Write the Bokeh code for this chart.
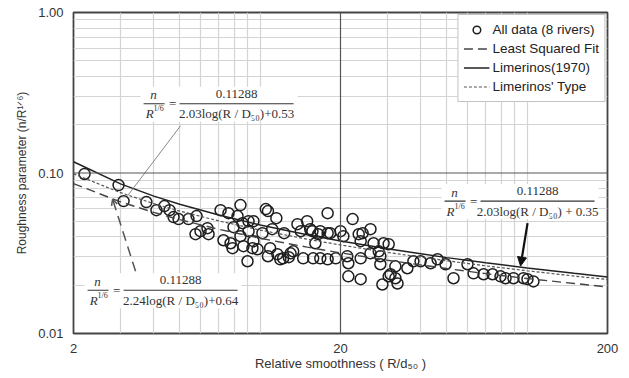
from bokeh.plotting import figure
from bokeh.models import (FixedTicker, PrintfTickFormatter, Span, Legend, LegendItem,
                          Arrow, NormalHead, OpenHead)
from bokeh.core.properties import value
from bokeh.embed import file_html
from bokeh.resources import INLINE

# ---------------- data ----------------
rel_smooth = [2.20, 2.95, 3.08, 3.75, 4.09, 4.38, 4.58, 4.74, 4.95, 5.39,
              5.78, 5.73, 5.98, 6.35, 6.41, 7.11, 7.61, 8.44, 7.95, 8.59,
              8.23, 9.05, 9.44, 7.29, 7.75, 7.88, 8.44, 8.66, 9.36, 9.78,
              8.97, 9.05, 9.44, 10.5, 10.7, 11.5, 10.9, 11.6, 11.9, 13.0,
              13.3, 13.8, 15.0, 14.2, 15.4, 14.5, 15.8, 16.5, 15.7, 16.8,
              17.9, 10.7, 12.2, 16.8, 17.9, 19.2, 17.9, 10.2, 11.1, 12.3,
              12.8, 18.3, 20.0, 20.5, 23.4, 24.2, 25.9, 26.6, 29.0, 30.3,
              23.8, 16.1, 21.2, 23.8, 25.9, 27.8, 28.2, 21.4, 28.2, 32.1,
              35.6, 37.5, 21.4, 23.8, 28.7, 30.3, 32.1, 32.7, 30.8, 22.2,
              46.2, 49.5, 53.0, 59.8, 63.0, 68.7, 74.2, 79.5, 83.0, 88.9,
              96.9, 105.6, 100.3, 39.9, 43.5]
rough_param = [0.0986, 0.0841, 0.0668, 0.0659, 0.0587, 0.0622, 0.0587, 0.0531, 0.0516, 0.0516,
               0.0539, 0.0416, 0.0434, 0.0453, 0.0416, 0.0587, 0.0562, 0.0631, 0.0460, 0.0487,
               0.0539, 0.0501, 0.0501, 0.0381, 0.0365, 0.0340, 0.0404, 0.0350, 0.0340, 0.0335,
               0.0282, 0.0434, 0.0376, 0.0596, 0.0579, 0.0523, 0.0340, 0.0312, 0.0290, 0.0316,
               0.0325, 0.0480, 0.0501, 0.0434, 0.0447, 0.0294, 0.0294, 0.0416, 0.0434, 0.0434,
               0.0422, 0.0303, 0.0294, 0.0294, 0.0290, 0.0294, 0.0562, 0.0422, 0.0447, 0.0422,
               0.0299, 0.0422, 0.0434, 0.0404, 0.0416, 0.0422, 0.0447, 0.0365, 0.0365, 0.0360,
               0.0376, 0.0365, 0.0303, 0.0294, 0.0316, 0.0325, 0.0303, 0.0274, 0.0270, 0.0262,
               0.0255, 0.0282, 0.0227, 0.0218, 0.0202, 0.0227, 0.0221, 0.0205, 0.0234, 0.0516,
               0.0290, 0.0270, 0.0221, 0.0270, 0.0237, 0.0234, 0.0234, 0.0227, 0.0221, 0.0221,
               0.0221, 0.0211, 0.0218, 0.0282, 0.0274]

curve_x = [2, 3, 4, 5, 7, 10, 15, 20, 30, 50, 70, 100, 150, 200]
least_squared_fit = [0.0859, 0.0661, 0.0568, 0.0512, 0.0446, 0.0392, 0.0345, 0.0318,
                     0.0286, 0.0254, 0.0236, 0.0220, 0.0205, 0.0195]
limerinos_1970 = [0.1175, 0.0856, 0.0718, 0.0638, 0.0547, 0.0474, 0.0412, 0.0377,
                  0.0337, 0.0297, 0.0276, 0.0256, 0.0237, 0.0225]
limerinos_type = [0.0989, 0.0754, 0.0644, 0.0579, 0.0503, 0.0441, 0.0387, 0.0356,
                  0.0320, 0.0284, 0.0264, 0.0246, 0.0228, 0.0217]

x_ticks = [2, 20, 200]
y_ticks = [0.01, 0.1, 1.0]

# equations: (coefficient, constant, anchor x, anchor y)
eq_coef = [2.03, 2.24, 2.03]
eq_const = [0.53, 0.64, 0.35]
eq_anchor_x = [4.70, 2.90, 63.0]
eq_anchor_y = [0.270, 0.0186, 0.0668]

# ---------------- figure ----------------
W, H = 629, 378
BL, BR, BT, BB = 73, 22, 12, 45
frame_w = W - BL - BR
frame_h = H - BT - BB

SANS = "Liberation Sans"
SERIF = "Liberation Serif"

p = figure(width=W, height=H, x_axis_type="log", y_axis_type="log",
           x_range=(2, 200), y_range=(0.01, 1.0),
           output_backend="svg", toolbar_location=None,
           min_border_left=BL, min_border_right=BR, min_border_top=BT, min_border_bottom=BB)
p.background_fill_color = "white"
p.border_fill_color = "white"
p.outline_line_color = "#444444"
p.outline_line_width = 1.8

# grids
minor_x = [3, 4, 5, 6, 7, 8, 9, 10, 30, 40, 50, 60, 70, 80, 90, 100]
minor_y = [0.02, 0.03, 0.04, 0.05, 0.06, 0.07, 0.08, 0.09,
           0.2, 0.3, 0.4, 0.5, 0.6, 0.7, 0.8, 0.9]
p.xgrid.ticker = FixedTicker(ticks=minor_x)
p.ygrid.ticker = FixedTicker(ticks=minor_y)
p.xgrid.grid_line_color = "#d4d4d4"
p.ygrid.grid_line_color = "#d4d4d4"
p.xgrid.grid_line_width = 1.2
p.ygrid.grid_line_width = 1.2
p.add_layout(Span(location=20, dimension="height", line_color="#555555", line_width=1.2))
p.add_layout(Span(location=0.1, dimension="width", line_color="#555555", line_width=1.2))

# axes
for ax in (p.xaxis[0], p.yaxis[0]):
    ax.axis_line_color = None
    ax.major_tick_in = 0
    ax.major_tick_out = 0
    ax.minor_tick_line_color = None
    ax.major_label_text_font = SANS
    ax.major_label_text_font_size = "13px"
    ax.major_label_text_color = "#333333"
    ax.axis_label_text_font = SANS
    ax.axis_label_text_font_style = "normal"
    ax.axis_label_text_color = "#333333"
p.xaxis.axis_label_text_font_size = "13px"
p.yaxis.axis_label_text_font_size = "12px"
p.xaxis.ticker = FixedTicker(ticks=x_ticks)
p.yaxis.ticker = FixedTicker(ticks=y_ticks)
p.xaxis.formatter = PrintfTickFormatter(format="%d")
p.yaxis.formatter = PrintfTickFormatter(format="%.2f")
p.xaxis.major_label_standoff = 10
p.yaxis.major_label_standoff = 10
p.xaxis.axis_label = "Relative smoothness ( R/d\u2085\u2080 )"
p.yaxis.axis_label = "Roughness parameter (n/R\u00b9\u141f\u2076)"
p.xaxis.axis_label_standoff = 0
p.yaxis.axis_label_standoff = 6


def shift(x, y, dx, dy):
    """Move a data point by screen pixels (dx right, dy down) on the log-log frame."""
    return x * 10 ** (dx / (frame_w / 2.0)), y * 10 ** (-dy / (frame_h / 2.0))


# equation boxes, drawn first (under the data)
for ax_, ay_ in zip(eq_anchor_x, eq_anchor_y):
    l, t = shift(ax_, ay_, -32, -17)
    r, b = shift(ax_, ay_, 125, 18)
    p.quad(left=[l], right=[r], top=[t], bottom=[b], fill_color="white", line_color=None)

# data
r_pts = p.scatter(rel_smooth, rough_param, marker="circle", size=11, fill_color=None,
                  line_color="#1e1e1e", line_width=1.5)

# curves
r_lsq = p.line(curve_x, least_squared_fit, line_color="#444444", line_width=1.4, line_dash="9 5")
r_lim = p.line(curve_x, limerinos_1970, line_color="#222222", line_width=1.5)
r_typ = p.line(curve_x, limerinos_type, line_color="#555555", line_width=1.2, line_dash="3 2")

# leader lines
x1, y1 = shift(eq_anchor_x[0], eq_anchor_y[0], 8, 22)
x2, y2 = shift(eq_anchor_x[0], eq_anchor_y[0], -45, 92)
p.line([x1, x2], [y1, y2], line_color="#888888", line_width=1.0)

x1, y1 = shift(eq_anchor_x[1], eq_anchor_y[1], 19, -19)
x2, y2 = shift(eq_anchor_x[1], eq_anchor_y[1], -4, -91)
p.add_layout(Arrow(x_start=x1, y_start=y1, x_end=x2, y_end=y2,
                   line_color="#555555", line_width=1.5, line_dash="10 6",
                   end=OpenHead(size=6, line_color="#555555", line_width=1.5)))

x1, y1 = shift(eq_anchor_x[2], eq_anchor_y[2], 54, 22)
x2, y2 = shift(eq_anchor_x[2], eq_anchor_y[2], 47, 65)
p.add_layout(Arrow(x_start=x1, y_start=y1, x_end=x2, y_end=y2,
                   line_color="#111111", line_width=2.2,
                   end=NormalHead(size=9, fill_color="#111111", line_color="#111111")))

# equations
for i, (ax_, ay_) in enumerate(zip(eq_anchor_x, eq_anchor_y)):
    common = dict(text_font=value(SERIF), text_color="#333333", text_baseline="middle")
    p.text([ax_], [ay_], text=["="], text_align="center", text_font_size="13px", **common)
    p.text([ax_], [ay_], text=["n"], text_align="center", text_font_size="13px",
           text_font_style="italic", x_offset=-19, y_offset=-9, **common)
    p.text([ax_], [ay_], text=["R"], text_align="right", text_font_size="13px",
           text_font_style="italic", x_offset=-19, y_offset=10, **common)
    p.text([ax_], [ay_], text=["1/6"], text_align="left", text_font_size="8px",
           x_offset=-19, y_offset=5, **common)
    p.text([ax_], [ay_], text=["0.11288"], text_align="center", text_font_size="13px",
           x_offset=64, y_offset=-10, **common)
    sep = " + " if i == 2 else "+"
    denom = f"{eq_coef[i]:.2f}log(R / D\u2085\u2080){sep}{eq_const[i]:.2f}"
    p.text([ax_], [ay_], text=[denom], text_align="center", text_font_size="13px",
           x_offset=64, y_offset=10, **common)
    bx0, by0 = shift(ax_, ay_, -29, 0)
    bx1, _ = shift(ax_, ay_, -8, 0)
    p.segment([bx0], [by0], [bx1], [by0], line_color="#333333", line_width=1.2)
    bx0, _ = shift(ax_, ay_, 7, 0)
    bx1, _ = shift(ax_, ay_, 121, 0)
    p.segment([bx0], [by0], [bx1], [by0], line_color="#333333", line_width=1.2)

# legend
legend = Legend(items=[
    LegendItem(label="All data (8 rivers)", renderers=[r_pts]),
    LegendItem(label="Least Squared Fit", renderers=[r_lsq]),
    LegendItem(label="Limerinos(1970)", renderers=[r_lim]),
    LegendItem(label="Limerinos' Type", renderers=[r_typ]),
], location="top_right")
legend.label_text_font = SANS
legend.label_text_font_size = "13.5px"
legend.label_text_color = "#222222"
legend.border_line_color = "#888888"
legend.border_line_width = 1.2
legend.background_fill_color = "white"
legend.background_fill_alpha = 1.0
legend.margin = 2
legend.padding = 5
legend.spacing = 0
legend.glyph_height = 19
legend.label_height = 19
legend.glyph_width = 26
legend.label_standoff = 3
p.add_layout(legend)

open("out.html", "w").write(file_html(p, INLINE))
